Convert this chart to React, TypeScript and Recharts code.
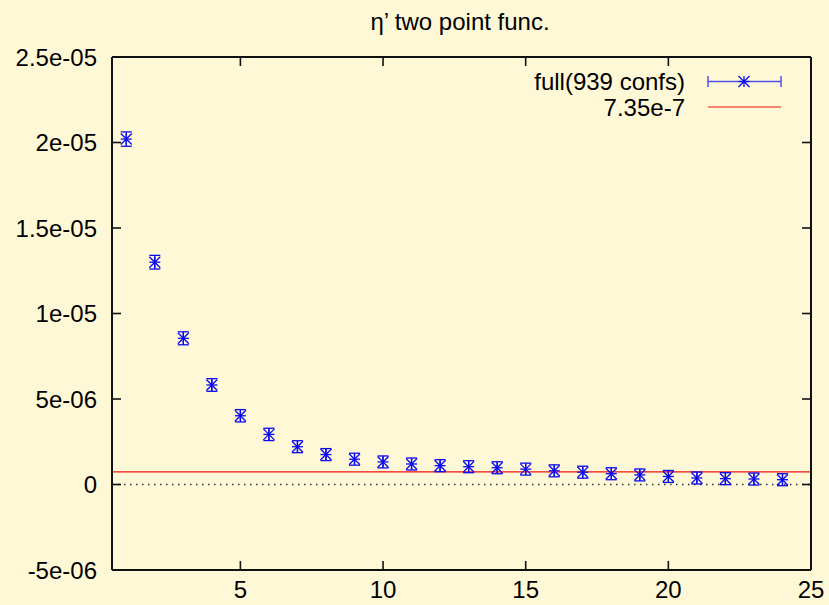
import React from 'react';
import { ComposedChart, Scatter, ErrorBar, XAxis, YAxis, ReferenceLine } from 'recharts';

// eta' two point correlator, values read in units of 1e-6
const TIMES = [1, 2, 3, 4, 5, 6, 7, 8, 9, 10, 11, 12, 13, 14, 15, 16, 17, 18, 19, 20, 21, 22, 23, 24];
const CORR = [20.2, 13.0, 8.55, 5.82, 4.02, 2.93, 2.21, 1.75, 1.48, 1.32, 1.2, 1.1, 1.04, 0.98, 0.9, 0.8, 0.72, 0.63, 0.56, 0.47, 0.38, 0.34, 0.32, 0.28];
const ERRS = [0.42, 0.4, 0.38, 0.37, 0.36, 0.36, 0.35, 0.35, 0.35, 0.35, 0.35, 0.35, 0.35, 0.35, 0.35, 0.35, 0.35, 0.35, 0.35, 0.35, 0.35, 0.35, 0.35, 0.35];
const FIT = 7.35e-7;

const X_TICKS = [5, 10, 15, 20, 25];
const Y_TICKS = [-5e-6, 0, 5e-6, 1e-5, 1.5e-5, 2e-5, 2.5e-5];
const Y_LABELS = ['-5e-06', '0', '5e-06', '1e-05', '1.5e-05', '2e-05', '2.5e-05'];

const TITLE = 'η’ two point func.';
const SERIES_NAME = 'full(939 confs)';
const FIT_NAME = '7.35e-7';

const BG = '#fff8d6';
const BLUE = '#0a0aee';
const INK = '#111111';
const FONT = '"Liberation Sans", Arial, sans-serif';
const FS = 24;
const TICK_LEN = 9;

const data = TIMES.map((t, i) => ({ t, v: CORR[i] * 1e-6, err: ERRS[i] * 1e-6 }));

const yLabel = (v: number) => {
  let best = 0;
  Y_TICKS.forEach((t, i) => { if (Math.abs(t - v) < Math.abs(Y_TICKS[best] - v)) best = i; });
  return Y_LABELS[best];
};

const Star = ({ cx, cy, color = BLUE }: any) => {
  const r = 5.5;
  return (
    <g stroke={color} strokeWidth={1.3}>
      <line x1={cx - r} y1={cy} x2={cx + r} y2={cy} />
      <line x1={cx} y1={cy - r} x2={cx} y2={cy + r} />
      <line x1={cx - r} y1={cy - r} x2={cx + r} y2={cy + r} />
      <line x1={cx - r} y1={cy + r} x2={cx + r} y2={cy - r} />
    </g>
  );
};

// gnuplot style ticks: marks point into the plot, on all four sides
const BottomTick = (props: any) => {
  const x = Number(props.x), y = Number(props.y);
  return (
    <g>
      <line x1={x} x2={x} y1={y} y2={y - TICK_LEN} stroke={INK} strokeWidth={1.6} />
      <text x={x} y={y + 19} textAnchor="middle" dominantBaseline="central" fontFamily={FONT} fontSize={FS} fill="#000">{props.payload.value}</text>
    </g>
  );
};
const TopTick = (props: any) => {
  const x = Number(props.x), y = Number(props.y);
  return <line x1={x} x2={x} y1={y} y2={y + TICK_LEN} stroke={INK} strokeWidth={1.6} />;
};
const LeftTick = (props: any) => {
  const x = Number(props.x), y = Number(props.y);
  return (
    <g>
      <line x1={x} x2={x + TICK_LEN} y1={y} y2={y} stroke={INK} strokeWidth={1.6} />
      <text x={x - 15} y={y} textAnchor="end" dominantBaseline="central" fontFamily={FONT} fontSize={FS} fill="#000">{yLabel(props.payload.value)}</text>
    </g>
  );
};
const RightTick = (props: any) => {
  const x = Number(props.x), y = Number(props.y);
  return <line x1={x} x2={x - TICK_LEN} y1={y} y2={y} stroke={INK} strokeWidth={1.6} />;
};

const AXIS_LINE = { stroke: INK, strokeWidth: 2 };

export default function App() {
  return (
    <div style={{ position: 'absolute', left: 0, top: 0, width: 829, height: 605, background: BG }}>
      <ComposedChart width={829} height={605} data={data} margin={{ top: 56, right: 17, bottom: 5, left: 52 }}>
        <XAxis xAxisId="t" orientation="top" dataKey="t" type="number" domain={[0.5, 25]} ticks={X_TICKS} height={1}
          tickSize={0} tickMargin={0} tickLine={false} tick={<TopTick />}
          axisLine={AXIS_LINE} allowDataOverflow />
        <YAxis yAxisId="l" type="number" domain={[-5e-6, 2.5e-5]} ticks={Y_TICKS} width={60}
          tickSize={0} tickMargin={0} tickLine={false} tick={<LeftTick />}
          axisLine={AXIS_LINE} allowDataOverflow />
        <YAxis yAxisId="r" orientation="right" type="number" domain={[-5e-6, 2.5e-5]} ticks={Y_TICKS} width={1}
          tickSize={0} tickMargin={0} tickLine={false} tick={<RightTick />}
          axisLine={AXIS_LINE} allowDataOverflow />
        <XAxis xAxisId="b" dataKey="t" type="number" domain={[0.5, 25]} ticks={X_TICKS} height={30}
          tickSize={0} tickMargin={0} tickLine={false} tick={<BottomTick />}
          axisLine={AXIS_LINE} allowDataOverflow />
        <ReferenceLine xAxisId="b" yAxisId="l" y={Y_TICKS[0]} stroke={INK} strokeWidth={2} ifOverflow="visible" />
        <ReferenceLine xAxisId="b" yAxisId="l" y={0} stroke="#333" strokeWidth={1.5} strokeDasharray="1.5 4.5" />
        <ReferenceLine xAxisId="b" yAxisId="l" y={FIT} stroke="#f01010" strokeWidth={1.2} />
        <Scatter xAxisId="b" yAxisId="l" dataKey="v" isAnimationActive={false} shape={<Star />}>
          <ErrorBar dataKey="err" direction="y" width={5.5} stroke={BLUE} strokeWidth={1.3} isAnimationActive={false} />
        </Scatter>
      </ComposedChart>
      <svg width={829} height={605} style={{ position: 'absolute', left: 0, top: 0, pointerEvents: 'none' }}>
        <text x={460} y={21} textAnchor="middle" dominantBaseline="central" fontFamily={FONT} fontSize={FS} fill="#000">{TITLE}</text>
        <text x={685} y={81} textAnchor="end" dominantBaseline="central" fontFamily={FONT} fontSize={FS} fill="#000">{SERIES_NAME}</text>
        <g stroke="#5050e8" strokeWidth={1.5}>
          <line x1={708} x2={781} y1={81.5} y2={81.5} />
          <line x1={708} x2={708} y1={76} y2={87} />
          <line x1={781} x2={781} y1={76} y2={87} />
        </g>
        <Star cx={744} cy={81.5} />
        <text x={685} y={107} textAnchor="end" dominantBaseline="central" fontFamily={FONT} fontSize={FS} fill="#000">{FIT_NAME}</text>
        <line x1={708} x2={781} y1={107} y2={107} stroke="#f01010" strokeWidth={1.2} />
      </svg>
    </div>
  );
}
